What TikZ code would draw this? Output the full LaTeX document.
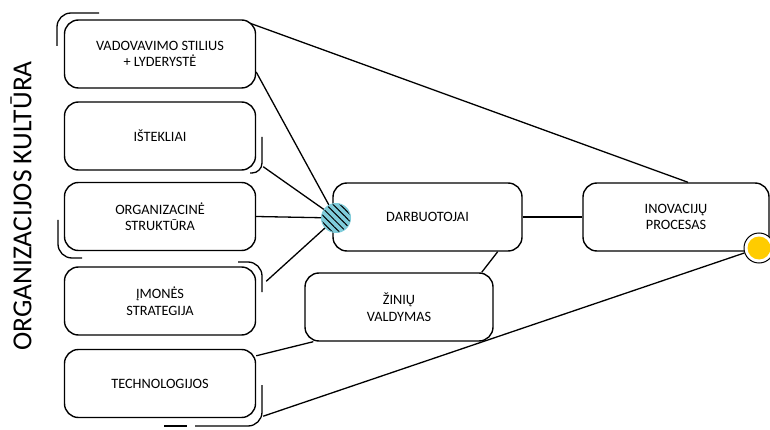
\documentclass[tikz,border=0pt]{standalone}
\usepackage{fontspec}
\setmainfont{Carlito}
\usetikzlibrary{patterns.meta}

\definecolor{hubblue}{HTML}{7FCCDA}
\definecolor{dotyellow}{HTML}{FFCC00}

\begin{document}
\begin{tikzpicture}[x=1pt, y=-1pt,
    box/.style={draw, line width=1.4pt, rounded corners=14pt, minimum width=191pt,
        minimum height=68pt, align=center, font=\fontsize{14.3}{16.5}\selectfont},
    link/.style={line width=1.3pt},
    brace/.style={line width=1.3pt, rounded corners=14pt}]
    \useasboundingbox (0,0) rectangle (770,430);

    % Side title
    \node[rotate=90, font=\fontsize{27.5}{30}\selectfont] (title) at (21,206) {ORGANIZACIJOS KULTŪRA};

    % Left column of factors
    \node[box] (vad) at (160,54) {VADOVAVIMO STILIUS\\+ LYDERYSTĖ};
    \node[box] (ist) at (160,136) {IŠTEKLIAI};
    \node[box] (org) at (160,216.5) {ORGANIZACINĖ\\STRUKTŪRA};
    \node[box] (imo) at (160,301) {ĮMONĖS\\STRATEGIJA};
    \node[box] (tech) at (160,383.5) {TECHNOLOGIJOS};

    % Middle and right boxes
    \node[box, minimum width=189pt] (darb) at (427.5,217) {DARBUOTOJAI};
    \node[box, minimum width=188pt] (zin) at (399,307) {ŽINIŲ\\VALDYMAS};
    \node[box, minimum width=186pt] (inov) at (676,217) {INOVACIJŲ\\PROCESAS};

    % Junction circles
    \node[circle, minimum size=29pt, inner sep=0pt, preaction={fill=hubblue},
        pattern={Lines[angle=-45, distance=5pt, line width=1pt]},
        draw=hubblue, line width=1pt] (hub) at (336,218) {};
    \node[circle, minimum size=30pt, inner sep=0pt, draw, line width=1pt, fill=white,
        path picture={\fill[dotyellow] (path picture bounding box.center) circle (11.5pt);}] (dot) at (759,248) {};

    % Connectors
    \draw[link] ([xshift=-6pt, yshift=-4pt]vad.north east) -- ([xshift=12pt]inov.north);
    \draw[link] ([yshift=-18pt]vad.east) -- (hub);
    \draw[link] ([xshift=7pt, yshift=4pt]ist.south east) -- (hub);
    \draw[link] (org.east) -- (hub);
    \draw[link] ([xshift=10pt, yshift=-15pt]imo.north east) -- (hub);
    \draw[link] (darb.east) -- (inov.west);
    \draw[link] ([xshift=-25pt]darb.south east) -- ([xshift=-12pt]zin.north east);
    \draw[link] ([yshift=-7pt]tech.north east) -- ([xshift=9pt]zin.south west);
    \draw[link] ([xshift=7pt, yshift=2pt]tech.south east) -- (dot);

    % Bracket marks
    \draw[brace] (57,46) -- (57,13) -- (99,13);
    \draw[brace, rounded corners=10pt] (262,137) -- (262,173) -- (250,173);
    \draw[brace] (58,220) -- (58,258) -- (82,258);
    \draw[brace] (238,262) -- (262,262) -- (262,292);
    \draw[brace] (262,385) -- (262,426) -- (195,426);
    \draw[line width=2.2pt] (164,426) -- (187,426);
\end{tikzpicture}
\end{document}
